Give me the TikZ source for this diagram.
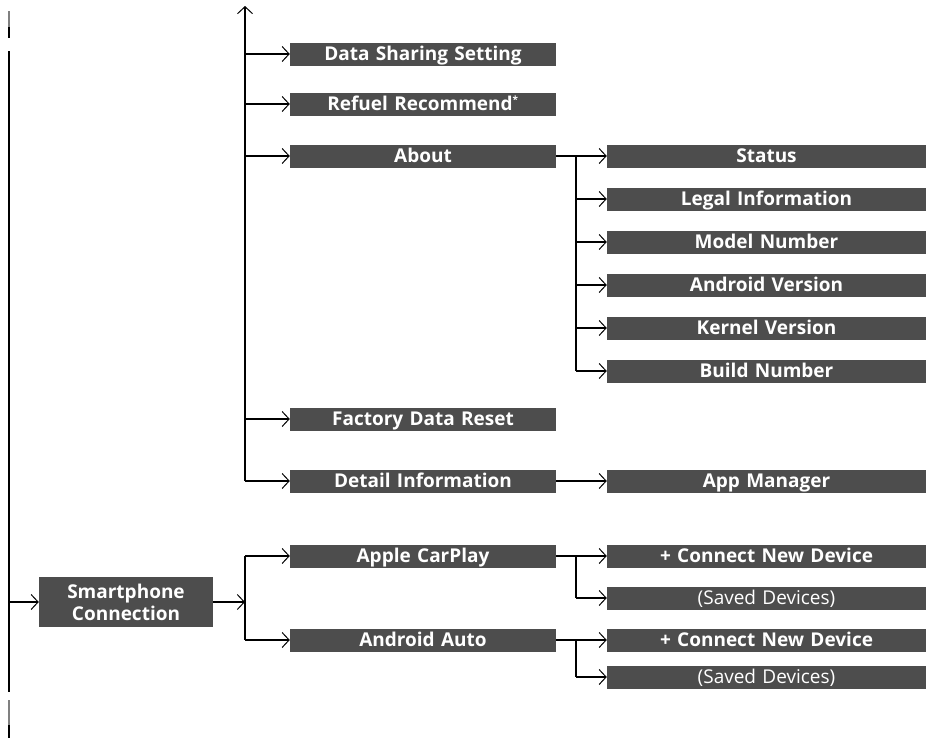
\documentclass[tikz,border=0pt]{standalone}
\usepackage{fontspec}
\setmainfont{Open Sans}
\usetikzlibrary{arrows.meta}
\definecolor{boxgray}{RGB}{77,77,77}
\tikzset{
  box/.style={fill=boxgray,text=white,font=\bfseries\fontsize{19}{21}\selectfont,inner sep=0pt,minimum height=23pt,text height=15pt,text depth=3pt,anchor=center},
  lbox/.style={box,minimum width=266pt,text width=266pt,align=center},
  rbox/.style={box,minimum width=319pt,text width=319pt,align=center},
  wire/.style={line width=2pt,black},
  arr/.style={wire,-{Straight Barb[length=7pt,width=15pt,line width=1pt]}},
}
\begin{document}
\begin{tikzpicture}[x=1pt,y=-1pt]
\useasboundingbox (0,0) rectangle (926,739);
% left column
\node[lbox] (ds) at (423,54) {Data Sharing Setting};
\node[lbox] (rr) at (423,104) {Refuel Recommend\textsuperscript{\fontsize{10}{10}\selectfont *}};
\node[lbox] (ab) at (423,156) {About};
\node[lbox] (fr) at (423,419) {Factory Data Reset};
\node[lbox] (di) at (423,481) {Detail Information};
\node[lbox] (ac) at (423,556) {Apple CarPlay};
\node[lbox] (aa) at (423,640) {Android Auto};
% right column
\node[rbox] (st) at (766.5,156) {Status};
\node[rbox] (li) at (766.5,199) {Legal Information};
\node[rbox] (mn) at (766.5,242) {Model Number};
\node[rbox] (av) at (766.5,285) {Android Version};
\node[rbox] (kv) at (766.5,328) {Kernel Version};
\node[rbox] (bn) at (766.5,371) {Build Number};
\node[rbox] (am) at (766.5,481) {App Manager};
\node[rbox] (c1) at (766.5,556) {+ Connect New Device};
\node[rbox, font=\fontsize{19}{21}\selectfont] (s1) at (766.5,598) {(Saved Devices)};
\node[rbox] (c2) at (766.5,640) {+ Connect New Device};
\node[rbox, font=\fontsize{19}{21}\selectfont] (s2) at (766.5,677) {(Saved Devices)};
% smartphone connection
\node[box,minimum width=174pt,minimum height=50pt,text height=,text depth=,align=center,font=\bfseries\fontsize{19}{22}\selectfont] (sc) at (126,602) {Smartphone\\Connection};
% left edge line
\coordinate (e1) at (9,11); \coordinate (e2) at (9,27); \coordinate (e3) at (9,38);
\coordinate (m1) at (9,51); \coordinate (m2) at (9,692);
\coordinate (b1) at (9,700); \coordinate (b2) at (9,725); \coordinate (b3) at (9,738);
\draw[line width=2pt,gray] (e1) -- (e2);
\draw[wire] (e2) -- (e3);
\draw[line width=2pt,gray] (b1) -- (b2);
\draw[wire] (b2) -- (b3);
\draw[wire] (m1) -- (m2);
\draw[arr] (9,602) -- (sc.west);
% main trunk
\coordinate (ttop) at (245,6);
\draw[wire,-{Straight Barb[length=7pt,width=15pt,line width=1pt]}] (245,481) -- (ttop);
\foreach \n in {ds,rr,ab,fr,di} {\draw[arr] (245,0 |- \n.west) -- (\n.west);}
% smartphone branch
\draw[arr] (sc.east) -- (245,602);
\draw[wire] (245,556) -- (245,640);
\draw[arr] (245,556) -- (ac.west);
\draw[arr] (245,640) -- (aa.west);
% about branch
\draw[arr] (ab.east) -- (st.west);
\draw[wire] (576,156) -- (576,371);
\foreach \n in {li,mn,av,kv,bn} {\draw[arr] (576,0 |- \n.west) -- (\n.west);}
\draw[arr] (di.east) -- (am.west);
% carplay / android auto
\draw[arr] (ac.east) -- (c1.west);
\draw[wire] (576,556) -- (576,598);
\draw[arr] (576,598) -- (s1.west);
\draw[arr] (aa.east) -- (c2.west);
\draw[wire] (576,640) -- (576,677);
\draw[arr] (576,677) -- (s2.west);
\end{tikzpicture}
\end{document}
